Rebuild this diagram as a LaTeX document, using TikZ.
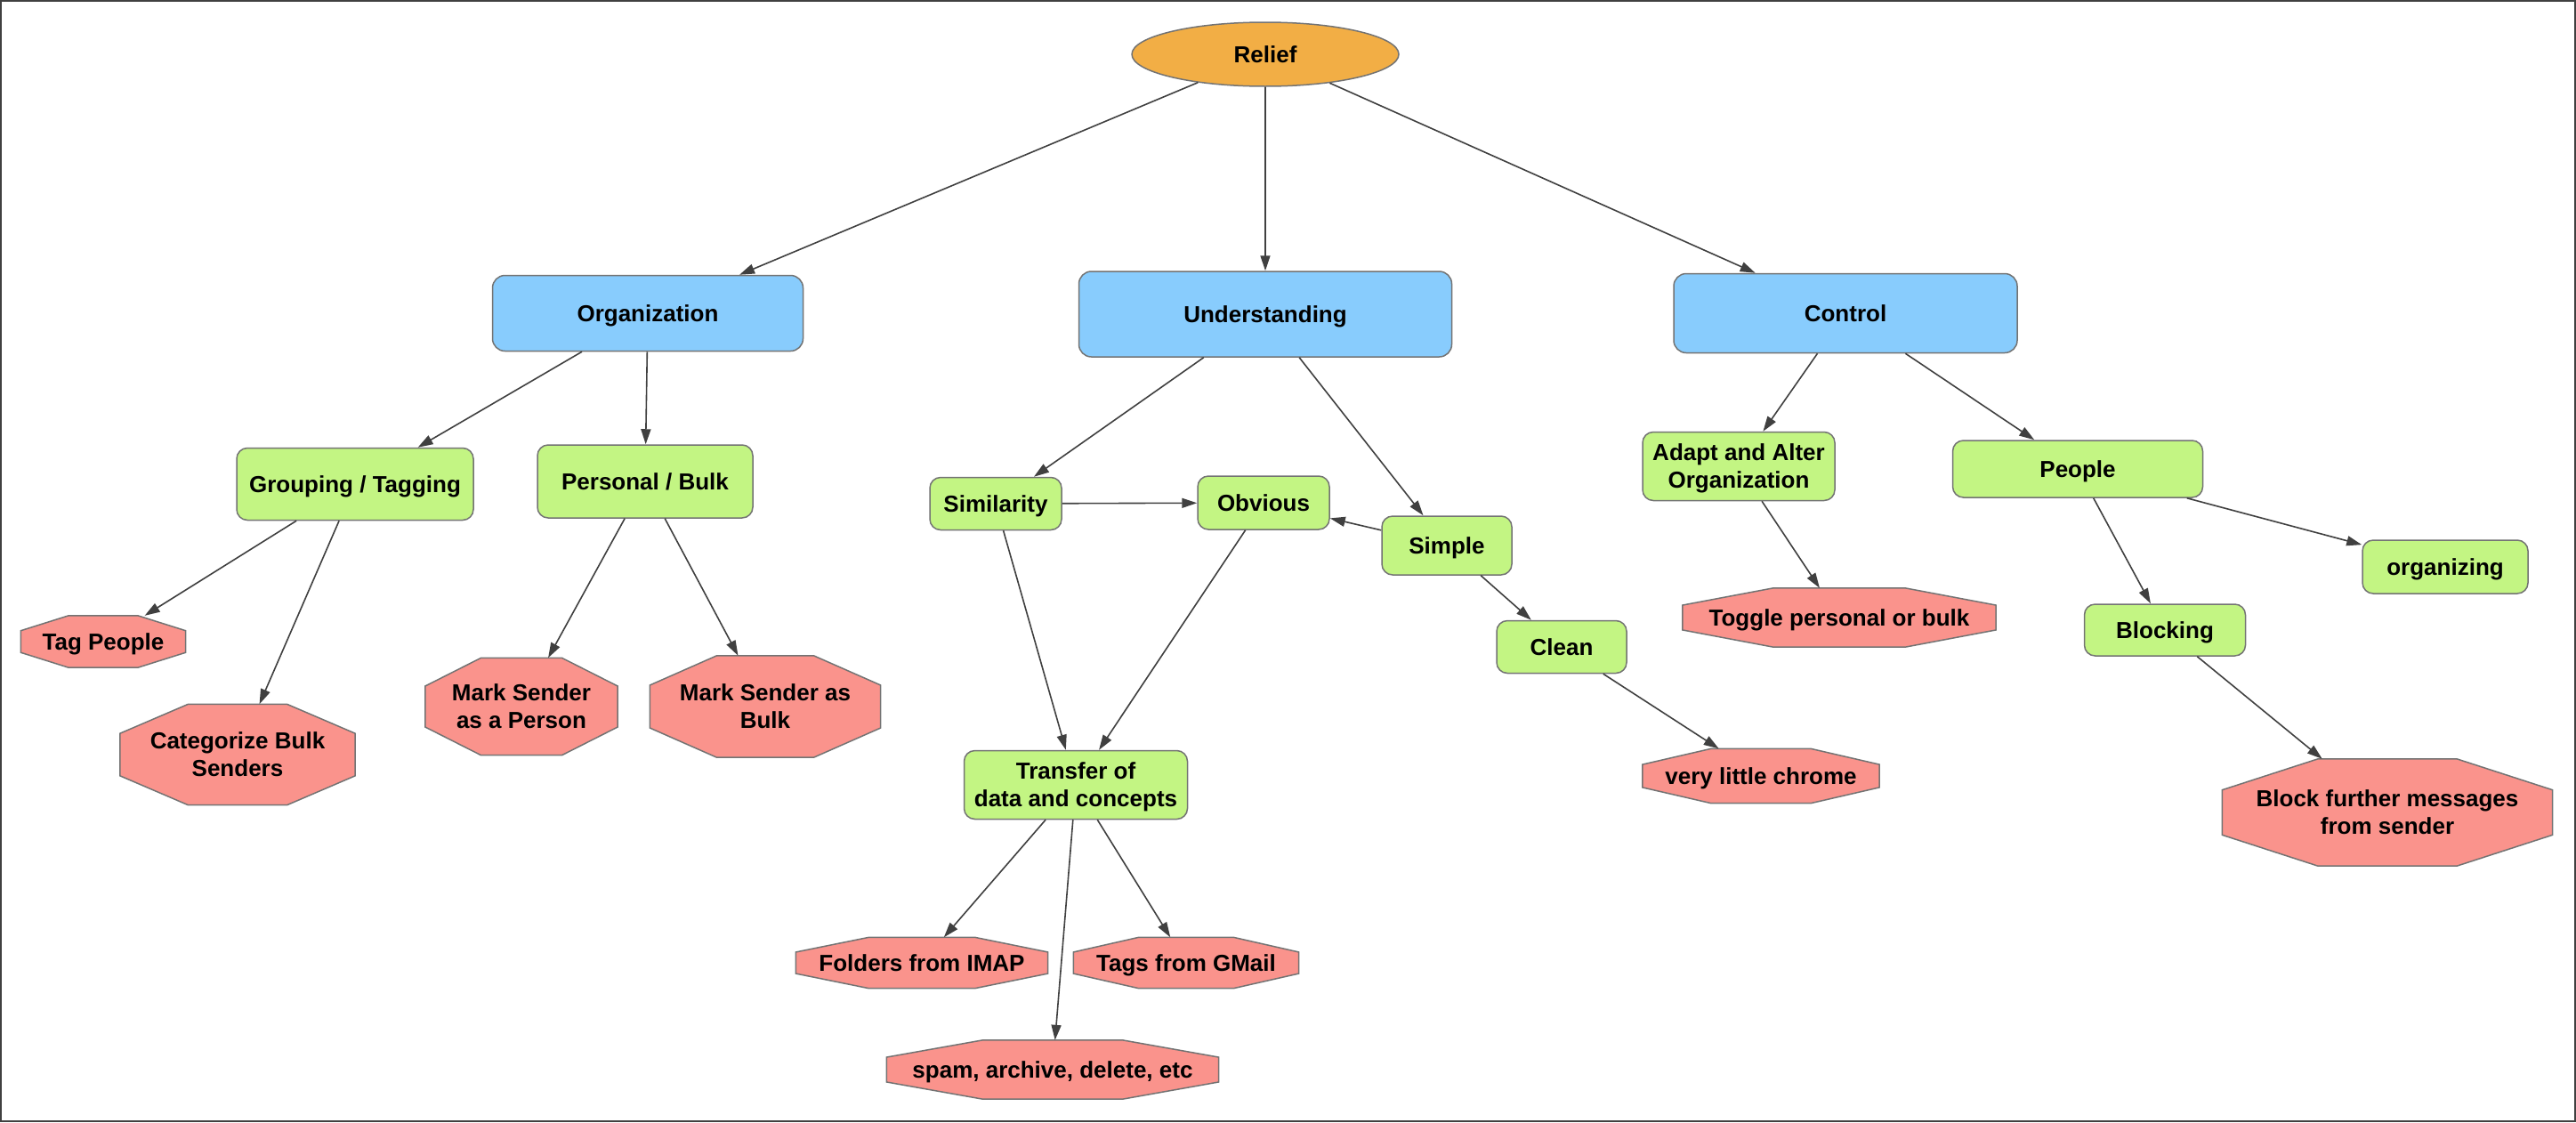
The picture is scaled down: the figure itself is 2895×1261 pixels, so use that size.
\documentclass[tikz,border=0pt]{standalone}
\usepackage{fontspec}
\setmainfont{Liberation Sans}
\usetikzlibrary{shapes.geometric, arrows.meta, calc, backgrounds}

\definecolor{reliefor}{RGB}{242,174,69}
\definecolor{topicblue}{RGB}{136,204,253}
\definecolor{ideagreen}{RGB}{195,245,131}
\definecolor{leafred}{RGB}{250,147,140}
\definecolor{nodeline}{RGB}{115,115,115}
\definecolor{edgeline}{RGB}{64,64,64}

\tikzstyle{base}=[inner sep=0pt, align=center, text depth=0pt, font=\bfseries\fontsize{26}{31}\selectfont]
\tikzstyle{rootnode}=[base, ellipse, draw=nodeline, line width=1.5pt, fill=reliefor]
\tikzstyle{topic}=[base, rectangle, rounded corners=14pt, draw=nodeline, line width=1.5pt, fill=topicblue]
\tikzstyle{idea}=[base, rectangle, rounded corners=12pt, draw=nodeline, line width=1.5pt, fill=ideagreen]
\tikzstyle{leaf}=[base, rectangle]
\tikzstyle{octagon}=[draw=nodeline, line width=1.5pt, fill=leafred]
\tikzstyle{edge}=[draw=edgeline, line width=1.6pt, -{Triangle[length=17pt, width=11pt]}]

\begin{document}
\begin{tikzpicture}[x=1pt, y=-1pt]
	    \useasboundingbox (0,0) rectangle (2895,1261);
	    \draw[line width=2pt, black!75] (1,1) rectangle (2894,1260);
	    \node[rootnode, text height=18.6pt, minimum width=300, minimum height=72] (rel) at (1422,61) {Relief};
	    % last field: text height, 18.6 for one line, 49.6 for two lines
	    \foreach \pos/\name/\w/\h/\txt/\thgt in {{(728,352)/org/349/85/Organization/18.6}, {(1422,353)/und/419/96/Understanding/18.6},
	            {(2074,352)/ctl/386/89/Control/18.6}}
	        \node[topic, text height=\thgt, minimum width=\w, minimum height=\h] (\name) at \pos {\txt};
	    \foreach \pos/\name/\w/\h/\txt/\thgt in {{(399,544)/grp/266/81/{Grouping / Tagging}/18.6}, {(725,541)/pb/242/82/{Personal / Bulk}/18.6},
	            {(1119,566)/sim/148/59/Similarity/18.6}, {(1420,565)/obv/148/60/Obvious/18.6}, {(1626,613)/simp/146/66/Simple/18.6},
	            {(1755,727)/cln/146/59/Clean/18.6}, {(1209,882)/trf/251/77/{Transfer of\\data and concepts}/49.6},
	            {(1954,524)/adp/216/77/{Adapt and Alter\\Organization}/49.6}, {(2335,527)/ppl/281/64/People/18.6},
	            {(2748,637)/orgz/186/60/organizing/18.6}, {(2433,708)/blk/181/58/Blocking/18.6}}
	        \node[idea, text height=\thgt, minimum width=\w, minimum height=\h] (\name) at \pos {\txt};
	    \foreach \pos/\name/\w/\h/\txt/\thgt in {{(116,721)/tagp/185/58/Tag People/18.6}, {(267,848)/catb/264/113/{Categorize Bulk\\Senders}/49.6},
	            {(586,794)/msp/216/109/{Mark Sender\\as a Person}/49.6}, {(860,794)/msb/259/114/{Mark Sender as\\Bulk}/49.6},
	            {(1036,1082)/fld/283/57/Folders from IMAP/18.6}, {(1333,1082)/tgm/253/57/Tags from GMail/18.6},
	            {(1183,1202)/spam/373/66/{spam, archive, delete, etc}/18.6}, {(2067,694)/tgl/352/66/Toggle personal or bulk/18.6},
	            {(1979,872)/vlc/266/61/very little chrome/18.6}, {(2683,913)/bfm/371/120/{Block further messages\\from sender}/49.6}}
	        \node[leaf, text height=\thgt, minimum width=\w, minimum height=\h] (\name) at \pos {\txt};
	    % octagons behind the leaf texts
	    \begin{pgfonlayer}{background}
	    \foreach \n in {tagp, catb, msp, msb, fld, tgm, spam, tgl, vlc, bfm}
	        \path[octagon] ($(\n.north west)!.29!(\n.north east)$) -- ($(\n.north east)!.29!(\n.north west)$)
	            -- ($(\n.north east)!.29!(\n.south east)$) -- ($(\n.south east)!.29!(\n.north east)$)
	            -- ($(\n.south east)!.29!(\n.south west)$) -- ($(\n.south west)!.29!(\n.south east)$)
	            -- ($(\n.south west)!.29!(\n.north west)$) -- ($(\n.north west)!.29!(\n.south west)$) -- cycle;
	    \end{pgfonlayer}
	    \foreach \source/\dest in {rel/org, rel/und, rel/ctl, org/grp, org/pb, grp/tagp, grp/catb, pb/msp, pb/msb,
	            und/sim, und/simp, sim/obv, simp/obv, sim/trf, obv/trf, simp/cln, cln/vlc, trf/fld, trf/spam, trf/tgm,
	            ctl/adp, ctl/ppl, adp/tgl, ppl/blk, ppl/orgz, blk/bfm}
			\path[edge] (\source) -- (\dest);
\end{tikzpicture}
\end{document}
